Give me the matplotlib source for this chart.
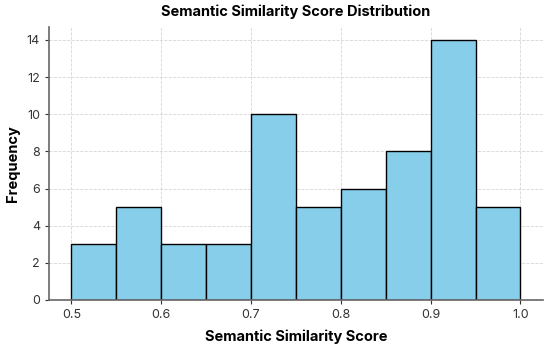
import matplotlib
matplotlib.use("Agg")
import matplotlib.pyplot as plt
import numpy as np

# bin edges and counts
bin_edges = [0.50, 0.55, 0.60, 0.65, 0.70, 0.75, 0.80, 0.85, 0.90, 0.95, 1.00]
counts = [3, 5, 3, 3, 10, 5, 6, 8, 14, 5]

plt.rcParams["font.family"] = ["Inter", "DejaVu Sans"]

fig = plt.figure(figsize=(5.5, 3.5), dpi=100)
ax = fig.add_axes([0.089, 0.143, 0.898, 0.78])

ax.hist(bin_edges[:-1], bins=bin_edges, weights=counts,
        color="#87CEEB", edgecolor="black", linewidth=1.0, zorder=2)

ax.set_title("Semantic Similarity Score Distribution", fontsize=10.5,
             fontweight="bold", pad=8)
ax.set_xlabel("Semantic Similarity Score", fontsize=10.5, fontweight="bold",
              labelpad=6)
ax.set_ylabel("Frequency", fontsize=10.5, fontweight="bold", labelpad=5)
ax.set_yticks(np.arange(0, 15, 2))
ax.set_xticks([0.5, 0.6, 0.7, 0.8, 0.9, 1.0])
ax.tick_params(labelsize=9, colors="#333333", length=3)
ax.grid(True, linestyle="--", color="#cccccc", linewidth=0.6, alpha=0.8, zorder=0)
ax.set_axisbelow(True)
for s in ["top", "right"]:
    ax.spines[s].set_visible(False)
for s in ["left", "bottom"]:
    ax.spines[s].set_color("#666666")
    ax.spines[s].set_linewidth(1.2)

fig.savefig("out.png", dpi=100)
